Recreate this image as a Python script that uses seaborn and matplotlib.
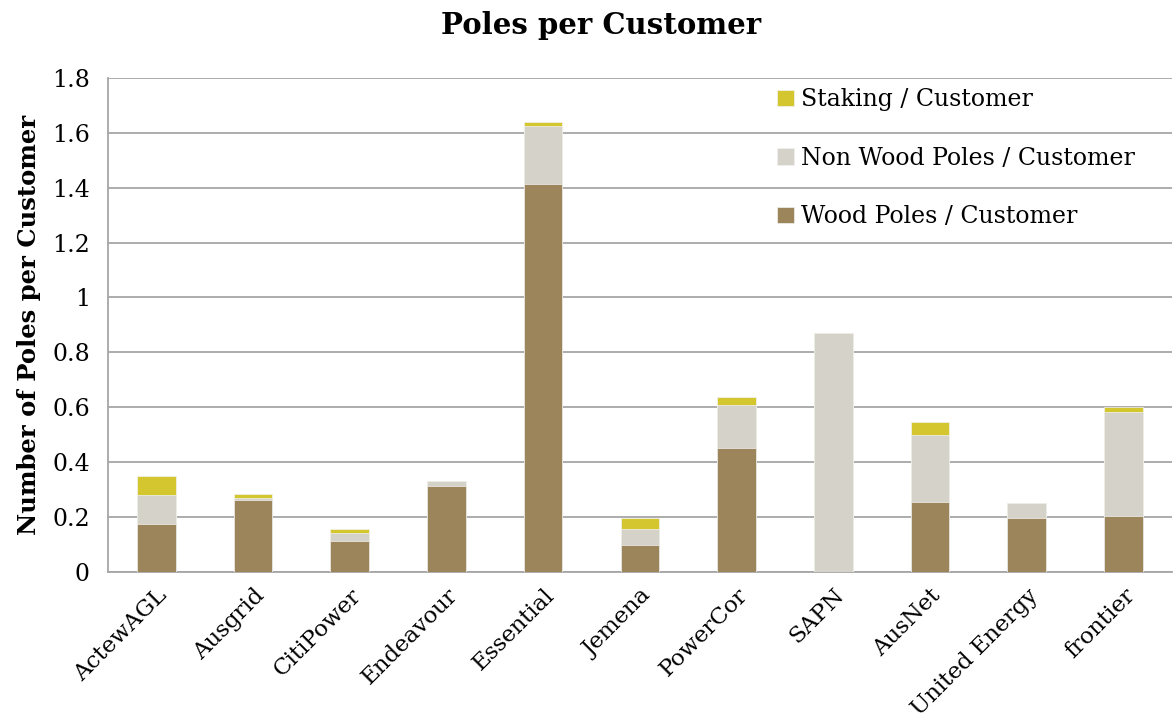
import numpy as np
import pandas as pd
import matplotlib
matplotlib.use("Agg")
import matplotlib.pyplot as plt
import seaborn as sns

# values
companies = ["ActewAGL", "Ausgrid", "CitiPower", "Endeavour", "Essential", "Jemena",
             "PowerCor", "SAPN", "AusNet", "United Energy", "frontier"]
wood = [0.174, 0.261, 0.113, 0.312, 1.415, 0.097, 0.453, 0.0, 0.253, 0.195, 0.205]
non_wood = [0.106, 0.007, 0.029, 0.020, 0.210, 0.060, 0.156, 0.871, 0.246, 0.057, 0.377]
staking = [0.071, 0.016, 0.015, 0.0, 0.013, 0.040, 0.029, 0.0, 0.047, 0.0, 0.018]

series_names = ["Wood Poles / Customer", "Non Wood Poles / Customer", "Staking / Customer"]
colors = ["#9c845b", "#d5d2ca", "#d4c62e"]

df = pd.DataFrame({"Company": companies, "Wood": wood, "NonWood": non_wood, "Staking": staking})
df["lvl1"] = df["Wood"]
df["lvl2"] = df["Wood"] + df["NonWood"]
df["lvl3"] = df["lvl2"] + df["Staking"]

sns.set_style("white")
plt.rcParams["font.family"] = ["DejaVu Serif"]
plt.rcParams["text.color"] = "black"
plt.rcParams["xtick.color"] = "black"
plt.rcParams["ytick.color"] = "black"
plt.rcParams["axes.labelcolor"] = "black"

fig = plt.figure(figsize=(11.73, 7.22), dpi=100)
ax = fig.add_axes([0.092, 0.208, 0.907, 0.684])

# stacked look: draw cumulative totals from the top layer down
for col, color, name in zip(["lvl3", "lvl2", "lvl1"], colors[::-1], series_names[::-1]):
    sns.barplot(data=df, x="Company", y=col, color=color, width=0.4, ax=ax, saturation=1,
                label=name, edgecolor="#f2f2f2", linewidth=0.5, zorder=3)

ax.set_ylim(0, 1.8)
ax.set_xlim(-0.5, len(companies) - 0.5)
ax.set_yticks(np.arange(0, 1.81, 0.2))
ax.set_yticklabels(["0", "0.2", "0.4", "0.6", "0.8", "1", "1.2", "1.4", "1.6", "1.8"], fontsize=17)
ax.yaxis.grid(True, color="#a6a6a6", linewidth=1.3, zorder=0)
ax.set_axisbelow(True)

ax.set_xticks(range(len(companies)))
ax.set_xticklabels(companies, rotation=45, ha="right", rotation_mode="anchor", fontsize=16.5)
ax.set_xticks(np.arange(-0.5, len(companies)), minor=True)
ax.tick_params(axis="x", which="major", length=0, pad=9)
ax.tick_params(axis="x", which="minor", length=8, color="#a6a6a6", width=1.2)
ax.tick_params(axis="y", length=7, color="#a6a6a6", width=1.2, pad=6)

for s in ["top", "right"]:
    ax.spines[s].set_visible(False)
for s in ["left", "bottom"]:
    ax.spines[s].set_color("#a6a6a6")
    ax.spines[s].set_linewidth(1.3)

ax.set_xlabel("")
ax.set_ylabel("Number of Poles per Customer", fontsize=17.5, fontweight="bold", labelpad=8)
fig.suptitle("Poles per Customer", x=0.512, y=0.985, fontsize=21, fontweight="bold")

handles, labels = ax.get_legend_handles_labels()
ax.legend(handles, labels, loc="upper left", bbox_to_anchor=(0.62, 0.998), frameon=False,
          fontsize=17, handlelength=0.7, handleheight=0.7, handletextpad=0.3,
          labelspacing=1.5, borderaxespad=0)

fig.savefig("out.png", dpi=100)
